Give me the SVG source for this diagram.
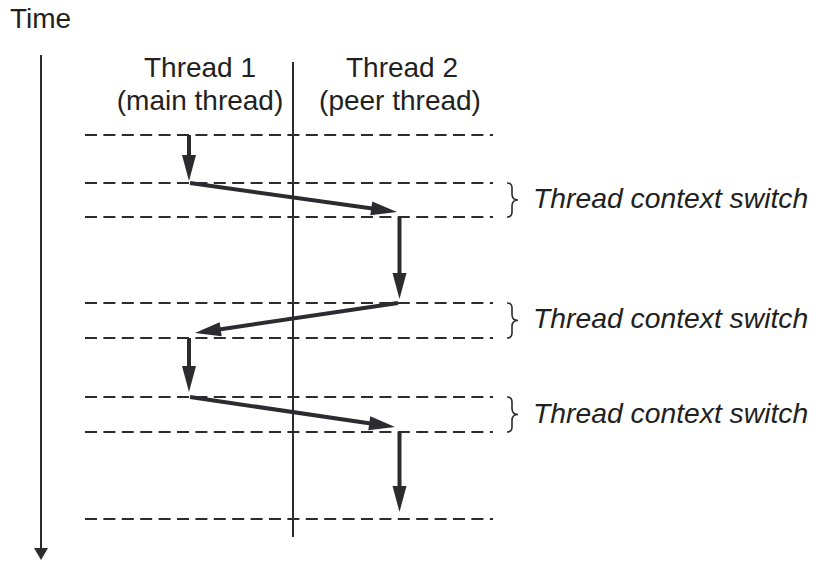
<svg xmlns="http://www.w3.org/2000/svg" width="832" height="574" viewBox="0 0 832 574">
<style>
text{font-family:"Liberation Sans",Arial,sans-serif;font-size:28px;fill:#231f20}
.it{font-style:italic;font-size:28.3px}
.dash{stroke:#2b2b30;stroke-width:2;stroke-dasharray:12 6.4;fill:none}
.thin{stroke:#2b2b30;stroke-width:2;fill:none}
.flow{stroke:#2b2b30;stroke-width:4;fill:none;marker-end:url(#head)}
.brace{stroke:#2b2b30;stroke-width:1.6;fill:none}
</style>
<defs>
<marker id="head" markerUnits="userSpaceOnUse" markerWidth="30" markerHeight="16" refX="10" refY="7" orient="auto" overflow="visible">
<path d="M0,0 L26,7 L0,14 Z" fill="#2b2b30"/>
</marker>
<marker id="small" markerUnits="userSpaceOnUse" markerWidth="14" markerHeight="16" refX="1" refY="7" orient="auto" overflow="visible">
<path d="M0,0 L12,7 L0,14 Z" fill="#2b2b30"/>
</marker>
</defs>
<g id="time-axis">
<text x="10" y="28">Time</text>
<line class="thin" x1="41" y1="55" x2="41" y2="549" marker-end="url(#small)"/>
</g>
<g id="thread1">
<text x="200" y="77" text-anchor="middle">Thread 1</text>
<text x="200" y="110" text-anchor="middle">(main thread)</text>
</g>
<g id="thread2">
<text x="402" y="77" text-anchor="middle">Thread 2</text>
<text x="400" y="110" text-anchor="middle">(peer thread)</text>
</g>
<g id="grid">
<line class="thin" x1="293" y1="62" x2="293" y2="537"/>
<line class="dash" x1="85" y1="135" x2="493" y2="135"/>
<line class="dash" x1="85" y1="183" x2="493" y2="183"/>
<line class="dash" x1="85" y1="217" x2="493" y2="217"/>
<line class="dash" x1="85" y1="303" x2="493" y2="303"/>
<line class="dash" x1="85" y1="338" x2="493" y2="338"/>
<line class="dash" x1="85" y1="397" x2="493" y2="397"/>
<line class="dash" x1="85" y1="432" x2="493" y2="432"/>
<line class="dash" x1="85" y1="519" x2="493" y2="519"/>
</g>
<g id="switch1">
<path class="brace" d="M507,183 q5,0 5,5 v6 q0,6 6,6 q-6,0 -6,6 v6 q0,5 -5,5"/>
<text class="it" x="533" y="208">Thread context switch</text>
</g>
<g id="switch2">
<path class="brace" d="M507,303 q5,0 5,5 v6.5 q0,6 6,6 q-6,0 -6,6 v6.5 q0,5 -5,5"/>
<text class="it" x="533" y="328">Thread context switch</text>
</g>
<g id="switch3">
<path class="brace" d="M507,397 q5,0 5,5 v6.5 q0,6 6,6 q-6,0 -6,6 v6.5 q0,5 -5,5"/>
<text class="it" x="533" y="423">Thread context switch</text>
</g>
<g id="connectors">
<line class="flow" x1="189" y1="135" x2="189" y2="165"/>
<line class="flow" x1="190" y1="183" x2="381.2" y2="209.8"/>
<line class="flow" x1="399.5" y1="217" x2="399.5" y2="283"/>
<line class="flow" x1="398" y1="303" x2="210.8" y2="330.7"/>
<line class="flow" x1="189" y1="338" x2="189" y2="376"/>
<line class="flow" x1="190" y1="397" x2="379.2" y2="424.7"/>
<line class="flow" x1="399.5" y1="432" x2="399.5" y2="496"/>
</g>
</svg>
